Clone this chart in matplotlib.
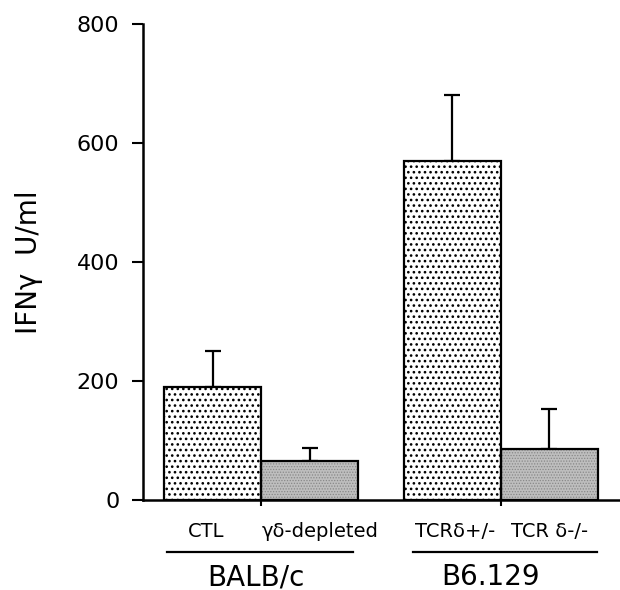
import matplotlib
matplotlib.use("Agg")
import matplotlib.pyplot as plt

plt.rcParams['font.family'] = ['DejaVu Sans']

categories = ["CTL", "γδ-depleted", "TCRδ+/-", "TCR δ-/-"]
values = [190, 66, 570, 86]
errors = [60, 22, 110, 67]
groups = ["BALB/c", "B6.129"]
yticks = [0, 200, 400, 600, 800]

positions = [0.72, 1.72, 3.19, 4.19]
styles = [("white", "black", "...", 1.1), ("#bebebe", "#888888", "......", 0.6),
          ("white", "black", "...", 1.1), ("#bebebe", "#888888", "......", 0.6)]

fig = plt.figure(figsize=(6.2, 5.9), dpi=100)
ax = fig.add_axes([143/620, 1 - 500/590, 477/620, 476/590])

for x, v, (fc, hc, h, hl) in zip(positions, values, styles):
    plt.rcParams['hatch.linewidth'] = hl
    ax.bar(x, v, width=1.0, color=fc, edgecolor=hc, hatch=h, linewidth=0, zorder=2)
    ax.bar(x, v, width=1.0, fill=False, edgecolor="black", linewidth=1.6, zorder=3)

ax.errorbar(positions, values, yerr=[[0]*4, errors], fmt="none", ecolor="black",
            elinewidth=1.6, capsize=6, capthick=1.6, zorder=1)

ax.set_xlim(0, 4.92)
ax.set_ylim(0, 800)
ax.set_yticks(yticks)
ax.set_yticklabels([str(t) for t in yticks], fontsize=16)
ax.tick_params(axis='y', length=8, width=1.5, pad=9)
ax.set_xticks([1.22, 3.69])
ax.set_xticklabels(["", ""])
ax.tick_params(axis='x', length=4, width=1.5, direction='out')
for s in ["top", "right"]:
    ax.spines[s].set_visible(False)
ax.spines["left"].set_linewidth(1.8)
ax.spines["bottom"].set_linewidth(1.8)

ax.set_ylabel("IFNγ  U/ml", fontsize=20, labelpad=24)

def fx(px):
    return px / 620
def fy(py):
    return 1 - py / 590

cat_x = [206, 320, 455, 550]
for cx, lab in zip(cat_x, categories):
    fig.text(fx(cx), fy(537), lab, ha="center", va="baseline", fontsize=14)

for (x0, x1) in [(167, 353), (413, 597)]:
    fig.add_artist(plt.Line2D([fx(x0), fx(x1)], [fy(552), fy(552)], color="black", lw=1.6))

for gx, g in zip([256, 491], groups):
    fig.text(fx(gx), fy(585), g, ha="center", va="baseline", fontsize=20)

fig.savefig("out.png", dpi=100)
